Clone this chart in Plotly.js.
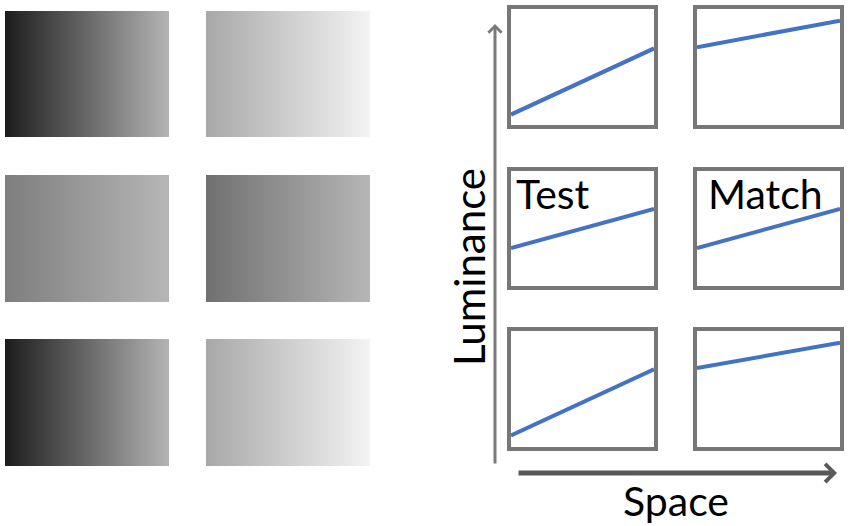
<!DOCTYPE html>
<html>
<head>
<meta charset="utf-8">
<script src="https://cdn.plot.ly/plotly-3.0.1.min.js"></script>
<style>html,body{margin:0;padding:0;background:#fff;}#chart{width:850px;height:526px;}</style>
</head>
<body>
<div id="chart"></div>
<script>
// ---- data ----
const rows = ['top', 'middle', 'bottom'];
const space = [0, 1];
// luminance profiles plotted in the line panels (0 = black, 1 = white)
const testLumStart = [0.09, 0.33, 0.10];
const testLumEnd = [0.66, 0.67, 0.67];
const matchLumStart = [0.67, 0.33, 0.68];
const matchLumEnd = [0.90, 0.67, 0.90];
// grey levels (0-255) of the gradient patches, left edge and right edge
const testPatchLeft = [28, 126, 28];
const testPatchRight = [180, 182, 180];
const matchPatchLeft = [168, 112, 168];
const matchPatchRight = [243, 182, 243];
// text
const yLabel = 'Luminance';
const xLabel = 'Space';
const testLabel = 'Test';
const matchLabel = 'Match';

// ---- layout helpers ----
const W = 850, H = 526;
const px = v => v / W;
const py = v => 1 - v / H;
const grey = v => `rgb(${v},${v},${v})`;

const patchCols = [[5, 169], [206, 370]];
const patchRows = [[11, 137], [175, 302], [339, 466]];
const boxCols = [[511, 654], [697, 840]];
const boxRows = [[9, 125], [171, 286], [331, 447]];

const traces = [];
const layout = {
  width: W, height: H,
  margin: {l: 0, r: 0, t: 0, b: 0},
  paper_bgcolor: '#ffffff', plot_bgcolor: 'rgba(0,0,0,0)',
  showlegend: false,
  font: {family: 'Lato, "Open Sans", sans-serif', color: '#000'},
  annotations: []
};

let n = 0;
function addAxes(xd, yd, boxed) {
  n += 1;
  const xk = n === 1 ? 'xaxis' : 'xaxis' + n;
  const yk = n === 1 ? 'yaxis' : 'yaxis' + n;
  const common = {range: [0, 1], showgrid: false, zeroline: false, showticklabels: false,
    ticks: '', fixedrange: true,
    showline: boxed, mirror: boxed, linewidth: 4, linecolor: '#777777'};
  layout[xk] = Object.assign({domain: [px(xd[0]), px(xd[1])], anchor: 'y' + (n === 1 ? '' : n)}, common);
  layout[yk] = Object.assign({domain: [py(yd[1]), py(yd[0])], anchor: 'x' + (n === 1 ? '' : n)}, common);
  return {xaxis: 'x' + (n === 1 ? '' : n), yaxis: 'y' + (n === 1 ? '' : n)};
}

// gradient patches
rows.forEach((r, i) => {
  [[testPatchLeft, testPatchRight], [matchPatchLeft, matchPatchRight]].forEach((pair, c) => {
    const ax = addAxes(patchCols[c], patchRows[i], false);
    traces.push(Object.assign({
      type: 'scatter', mode: 'none',
      x: [space[0], space[1], space[1], space[0], space[0]],
      y: [0, 0, 1, 1, 0],
      fill: 'toself',
      fillgradient: {type: 'horizontal', colorscale: [[0, grey(pair[0][i])], [1, grey(pair[1][i])]]},
      hoverinfo: 'skip'
    }, ax));
  });
});

// luminance profile panels
rows.forEach((r, i) => {
  [[testLumStart, testLumEnd], [matchLumStart, matchLumEnd]].forEach((pair, c) => {
    const ax = addAxes(boxCols[c], boxRows[i], true);
    traces.push(Object.assign({
      type: 'scatter', mode: 'lines',
      x: space, y: [pair[0][i], pair[1][i]],
      line: {color: '#4472c4', width: 4},
      cliponaxis: true, hoverinfo: 'skip'
    }, ax));
  });
});

const fs = 41;
layout.annotations.push(
  {xref: 'paper', yref: 'paper', x: px(469), y: py(267), text: yLabel, textangle: -90,
   showarrow: false, font: {size: 42, color: '#000'}, xanchor: 'center', yanchor: 'middle'},
  {xref: 'paper', yref: 'paper', x: px(675.5), y: py(500), text: xLabel,
   showarrow: false, font: {size: fs, color: '#000'}, xanchor: 'center', yanchor: 'middle'},
  {xref: 'paper', yref: 'paper', x: px(552.5), y: py(194), text: testLabel,
   showarrow: false, font: {size: fs, color: '#000'}, xanchor: 'center', yanchor: 'middle'},
  {xref: 'paper', yref: 'paper', x: px(765.5), y: py(194), text: matchLabel,
   showarrow: false, font: {size: fs, color: '#000'}, xanchor: 'center', yanchor: 'middle'},
  // vertical arrow
  {xref: 'paper', yref: 'paper', x: px(495), y: py(24), axref: 'pixel', ayref: 'pixel',
   ax: 0, ay: 441, text: '', showarrow: true, arrowhead: 4, arrowsize: 0.85, arrowwidth: 3,
   arrowcolor: '#7a7a7a', standoff: 0, startstandoff: 0},
  // horizontal arrow
  {xref: 'paper', yref: 'paper', x: px(837), y: py(473), axref: 'pixel', ayref: 'pixel',
   ax: -320, ay: 0, text: '', showarrow: true, arrowhead: 4, arrowsize: 0.7, arrowwidth: 5,
   arrowcolor: '#595959', standoff: 0, startstandoff: 0}
);

Plotly.newPlot('chart', traces, layout, {staticPlot: true, displayModeBar: false});
</script>
</body>
</html>
